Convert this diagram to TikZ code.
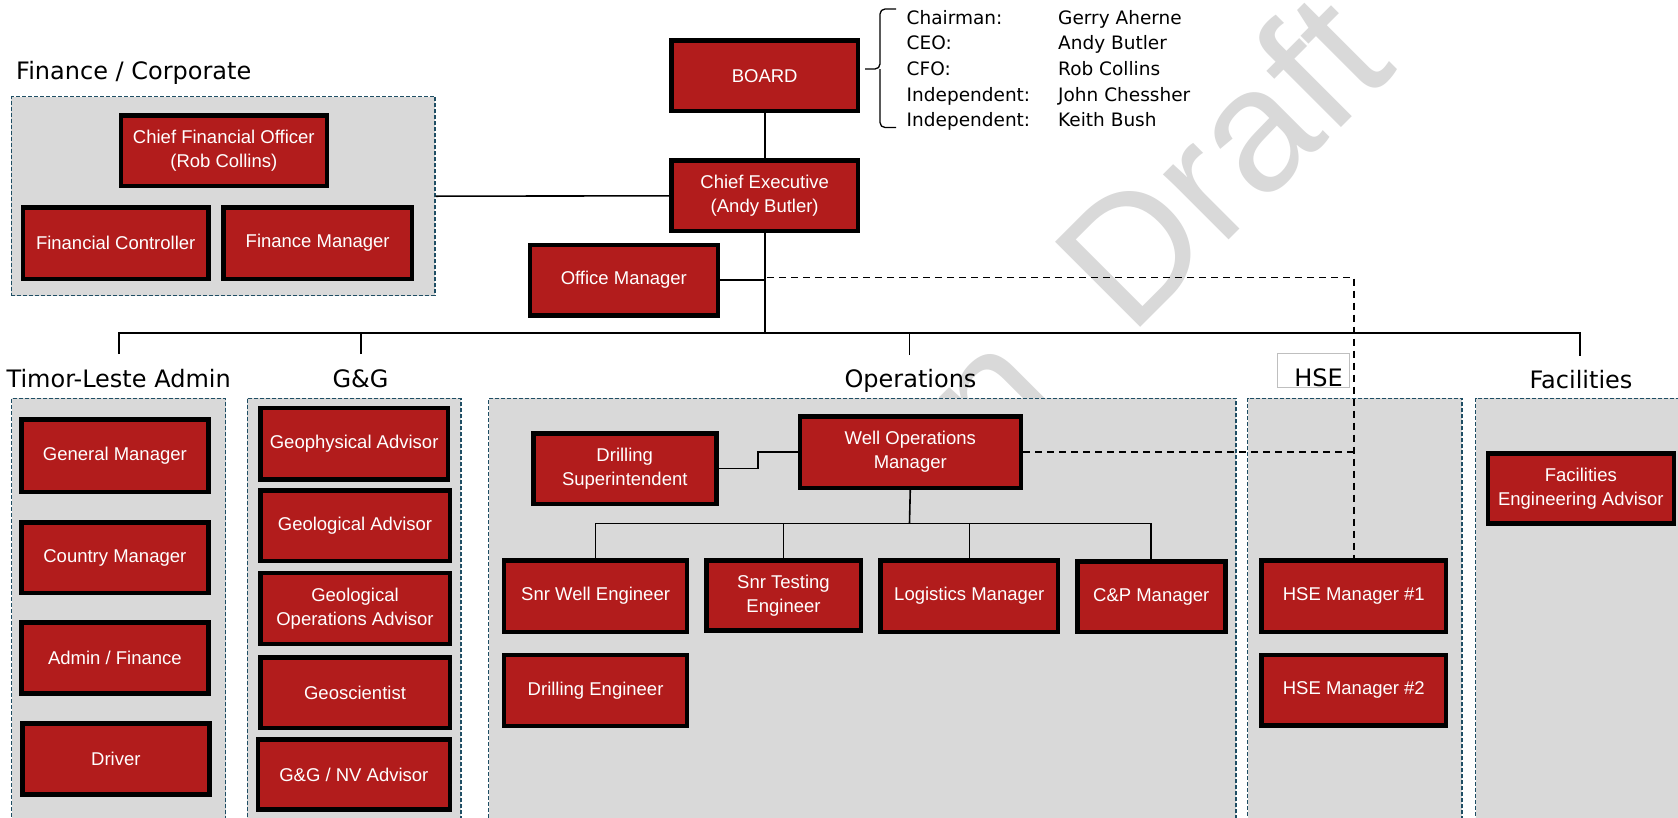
\documentclass[tikz,border=0pt]{standalone}
\usepackage{fontspec}
\setmainfont{Liberation Sans}
\newfontfamily\dvs{DejaVu Sans}
\newfontfamily\wmfont{Liberation Sans}
\definecolor{boxred}{HTML}{B21C1C}
\definecolor{grpgray}{HTML}{D9D9D9}
\definecolor{grpblue}{HTML}{1F4E64}
\definecolor{wmgray}{HTML}{D9D9D9}
\definecolor{hsegray}{HTML}{BFBFBF}
\tikzset{
  orgbox/.style={draw=black, line width=4.5pt, fill=boxred, text=white, align=center,
    font=\fontsize{18.5}{24}\selectfont, inner sep=0pt},
  grp/.style={draw=grpblue, fill=grpgray, line width=1.3pt, dash pattern=on 4pt off 2pt, inner sep=0pt},
  conn/.style={draw=black, line width=1.6pt},
  dconn/.style={draw=black, line width=1.6pt, dash pattern=on 7pt off 5pt},
  grptitle/.style={font=\dvs\fontsize{24}{28}\selectfont, anchor=base, inner sep=0pt, text=black},
  lst/.style={font=\dvs\fontsize{18.5}{22}\selectfont, anchor=base west, inner sep=0pt, text=black},
  wmark/.style={font=\wmfont\fontsize{175}{175}\selectfont, text=wmgray, inner sep=0pt}
}
\newcommand{\obox}[6]{\node[orgbox, minimum width={#4-#2-4.5}, minimum height={#5-#3-4.5}] (#1) at ({(#2+#4)/2},{(#3+#5)/2}) {#6};}
\newcommand{\gbox}[5]{\node[grp, minimum width={#4-#2}, minimum height={#5-#3}] (#1) at ({(#2+#4)/2},{(#3+#5)/2}) {};}
\begin{document}
\begin{tikzpicture}[x=1pt,y=-1pt]
\useasboundingbox (0,0) rectangle (1678,817);
\clip (0,0) rectangle (1678,817);
\fill[white] (0,0) rectangle (1678,817);

% watermark
\node[wmark, rotate=45, anchor=base west] (wmk) at (996,472) {n\kern93pt Draft};

% group containers
\gbox{fin}{11.4}{96.7}{435}{295.7}
\gbox{tl}{11.7}{398.3}{225.7}{840}
\gbox{gg}{247.3}{398.3}{461}{840}
\gbox{ops}{488.7}{398.3}{1236}{840}
\gbox{hse}{1247.7}{398.3}{1462}{840}
\gbox{fac}{1475.5}{398.3}{1720}{840}

% titles
\node[grptitle, anchor=base west] (tfin) at (16,79) {Finance / Corporate};
\node[grptitle] (ttl) at (118.7,387.7) {Timor-Leste Admin};
\node[grptitle] (tgg) at (360.5,387.7) {G\&G};
\node[grptitle] (tops) at (910.5,387.7) {Operations};
\node[grptitle] (tfac) at (1581,388) {Facilities};
\node[draw=hsegray, fill=white, line width=0.8pt, minimum width=72pt, minimum height=34pt, inner sep=0pt] (thsebox) at (1313.3,370.4) {};
\node[grptitle, anchor=base east] (thse) at (1343,386.5) {HSE};

% board list
\node[lst] (l1) at (906.5,24) {Chairman:};
\node[lst] (l2) at (906.5,49.7) {CEO:};
\node[lst] (l3) at (906.5,75.4) {CFO:};
\node[lst] (l4) at (906.5,101.1) {Independent:};
\node[lst] (l5) at (906.5,126.8) {Independent:};
\node[lst] (n1) at (1058,24) {Gerry Aherne};
\node[lst] (n2) at (1058,49.7) {Andy Butler};
\node[lst] (n3) at (1058,75.4) {Rob Collins};
\node[lst] (n4) at (1058,101.1) {John Chessher};
\node[lst] (n5) at (1058,126.8) {Keith Bush};
\coordinate (brtip) at (865,69);
\draw[line width=1.3pt, rounded corners=5pt] (896,9) -- (880,9) -- (880,69) -- (brtip);
\draw[line width=1.3pt, rounded corners=5pt] (896,127.5) -- (880,127.5) -- (880,69);

% boxes
\obox{cfo}{118.6}{113.3}{329}{188.3}{Chief Financial Officer\\(Rob Collins)}
\obox{fc}{20.7}{205}{210.7}{281}{Financial Controller}
\obox{fm}{221.4}{205}{414}{281}{Finance Manager}
\obox{board}{669}{38.3}{860.4}{113.3}{BOARD}
\obox{ce}{669}{158.3}{860.4}{233.3}{Chief Executive\\(Andy Butler)}
\obox{om}{527.7}{242.7}{720}{317.7}{Office Manager}
\obox{gm}{19}{417.3}{210.7}{494.3}{General Manager}
\obox{cm}{19}{520}{210.7}{595}{Country Manager}
\obox{af}{19}{620}{210.7}{695.7}{Admin / Finance}
\obox{dr}{20}{721}{211.7}{796.7}{Driver}
\obox{gpa}{258.3}{405.7}{450}{481.7}{Geophysical Advisor}
\obox{gla}{258}{488.3}{452}{563.3}{Geological Advisor}
\obox{goa}{258}{570.7}{452}{646}{Geological\\Operations Advisor}
\obox{gsc}{258}{655}{452}{730}{Geoscientist}
\obox{gnv}{255.7}{737.3}{452}{811.7}{G\&G / NV Advisor}
\obox{ds}{531}{431}{718.5}{506}{Drilling\\Superintendent}
\obox{wom}{797.5}{414}{1023}{490}{Well Operations\\Manager}
\obox{swe}{501.8}{558.3}{689.4}{634}{Snr Well Engineer}
\obox{ste}{704}{558.3}{863}{632.7}{Snr Testing\\Engineer}
\obox{lm}{878.4}{558.3}{1060.2}{634}{Logistics Manager}
\obox{cp}{1075}{559.3}{1227.5}{634}{C\&P Manager}
\obox{de}{501.8}{652.7}{689.4}{728.3}{Drilling Engineer}
\obox{h1}{1259.3}{558.3}{1448.3}{634.3}{HSE Manager \#1}
\obox{h2}{1259.3}{652.7}{1448.3}{727.7}{HSE Manager \#2}
\obox{fea}{1485.7}{451}{1676}{525.7}{Facilities\\Engineering Advisor}

% connectors
\coordinate (cebus) at (764.7,332.7);
\coordinate (busL) at (118.7,332.7);
\coordinate (busR) at (1580,332.7);
\coordinate (dtl) at (118.7,354);
\coordinate (dgg) at (360.7,354);
\coordinate (dops) at (909.3,355);
\coordinate (dfac) at (1580,356);
\draw[conn] (board.south) -- (ce.north);
\draw[conn] (fin.east) -- (ce.west);
\draw[conn] (ce.south) -- (cebus);
\draw[conn] (om.east) -- (om.east -| cebus);
\draw[conn] (dtl) -- (busL) -- (busR) -- (dfac);
\draw[conn] (dgg) -- (dgg |- busL);
\draw[conn] (dops) -- (dops |- busL);
\coordinate (dsh) at (1353.8,277.3);
\draw[dconn] (767,277.3) -- (dsh) -- (h1.north);
\draw[dconn] (wom.east) -- (wom.east -| dsh);
\coordinate (dsj) at (757.8,468.5);
\draw[conn] (ds.east) -- (dsj) |- (wom.west);
\coordinate (wbus) at (909.5,523.3);
\draw[conn] (wom.south) -- (wbus);
\draw[conn] (swe.north) -- (swe.north |- wbus) -- (cp.north |- wbus) -- (cp.north);
\draw[conn] (ste.north) -- (ste.north |- wbus);
\draw[conn] (lm.north) -- (lm.north |- wbus);
\end{tikzpicture}
\end{document}
